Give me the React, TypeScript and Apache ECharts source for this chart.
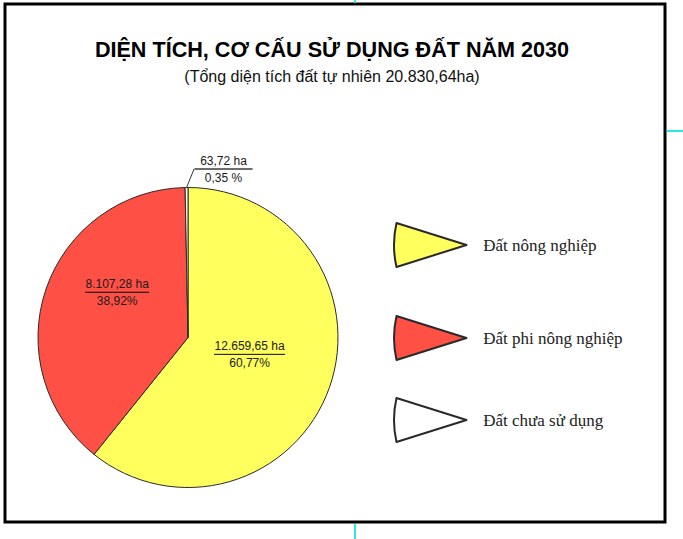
import React, { useEffect, useRef } from "react";
import * as echarts from "echarts";

const titleText = "DIỆN TÍCH, CƠ CẤU SỬ DỤNG ĐẤT NĂM 2030";
const subtitleText = "(Tổng diện tích đất tự nhiên 20.830,64ha)";
const categories = ["Đất nông nghiệp", "Đất phi nông nghiệp", "Đất chưa sử dụng"];
const areas = [12659.65, 8107.28, 63.72];
const areaLabels = ["12.659,65 ha", "8.107,28 ha", "63,72 ha"];
const shareLabels = ["60,77%", "38,92%", "0,35 %"];
const colors = ["#ffff5e", "#ff5046", "#ffffff"];

const SANS = "'Liberation Sans', Arial, sans-serif";
const SERIF = "'Liberation Serif', 'Times New Roman', serif";

function measure(text: string, font: string): number {
  const c = document.createElement("canvas").getContext("2d")!;
  c.font = font;
  return Math.ceil(c.measureText(text).width);
}

export default function App() {
  const ref = useRef<HTMLDivElement>(null);
  useEffect(() => {
    document.body.style.margin = "0";
    const chart = echarts.init(ref.current!, null, { renderer: "svg" });
    const labelText = { fontSize: 12, color: "#1a1a1a", fontFamily: SANS, lineHeight: 15, align: "center" };
    const legendTops = [217, 310, 392];
    chart.setOption({
      animation: false,
      backgroundColor: "#ffffff",
      title: {
        text: titleText,
        subtext: subtitleText,
        left: 327,
        top: 33,
        textAlign: "center",
        itemGap: 8,
        textStyle: { fontSize: 21.6, fontWeight: "bold", color: "#000", fontFamily: SANS },
        subtextStyle: { fontSize: 16, color: "#111", fontFamily: SANS },
      },
      legend: categories.map((name, i) => ({
        orient: "vertical",
        left: 388,
        top: legendTops[i],
        itemWidth: 74,
        itemHeight: 44,
        icon: "path://M4,0 L74,22 L4,44 Q-1,22 4,0 Z",
        data: [name],
        selectedMode: false,
        textStyle: { fontSize: 17, color: "#222", fontFamily: SERIF, padding: [0, 0, 7, 11] },
      })),
      graphic: [
        { type: "rect", shape: { x: 5, y: 4, width: 660, height: 518 }, style: { fill: "none", stroke: "#000", lineWidth: 3 }, silent: true },
        { type: "line", shape: { x1: 355, y1: 0, x2: 355, y2: 3 }, style: { stroke: "#2ee6e6", lineWidth: 2 } },
        { type: "line", shape: { x1: 667, y1: 131, x2: 683, y2: 131 }, style: { stroke: "#2ee6e6", lineWidth: 2 } },
        { type: "line", shape: { x1: 355, y1: 524, x2: 355, y2: 539 }, style: { stroke: "#2ee6e6", lineWidth: 2 } },
      ],
      series: [
        {
          type: "pie",
          center: [188, 337.5],
          radius: 150,
          startAngle: 90,
          clockwise: true,
          avoidLabelOverlap: false,
          silent: true,
          itemStyle: { borderColor: "#2a2a2a", borderWidth: 1 },
          emphasis: { disabled: true },
          label: {
            show: true,
            position: "inside",
            formatter: (p: any) => `{a|${areaLabels[p.dataIndex]}}\n{hr|}\n{b|${shareLabels[p.dataIndex]}}`,
          },
          labelLine: { show: false },
          labelLayout: (params: any) => {
            if (params.dataIndex === 2) {
              return {
                x: params.rect.x + params.rect.width + 6,
                y: params.rect.y - 18,
                align: "left",
                verticalAlign: "middle",
              };
            }
            if (params.dataIndex === 0) return { dx: -12, dy: -9 };
            return { dx: 3, dy: -20 };
          },
          data: categories.map((name, i) => {
            const w = i === 2 ? 58 : measure(areaLabels[i], `12px ${SANS}`);
            const rich = {
              a: { ...labelText, width: w },
              b: { ...labelText, width: w },
              hr: { width: w, height: 0, lineHeight: 2, align: "center", borderColor: "#1a1a1a", borderWidth: 0.8 },
            };
            return {
              name,
              value: areas[i],
              itemStyle: { color: colors[i] },
              label: i === 2 ? { position: "outside", rich } : { rich },
              ...(i === 2
                ? { labelLine: { show: true, length: 15, length2: 0, lineStyle: { color: "#333", width: 1 } } }
                : {}),
            };
          }),
        },
      ],
    });
    return () => chart.dispose();
  }, []);
  return <div ref={ref} style={{ position: "absolute", left: 0, top: 0, width: 683, height: 539 }} />;
}
